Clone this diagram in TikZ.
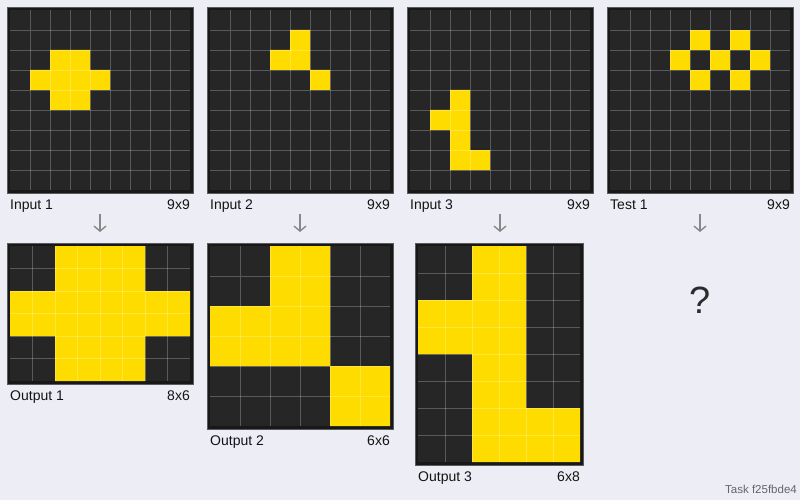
\documentclass[tikz,border=0pt]{standalone}
\usepackage{fontspec}
\setmainfont{Liberation Sans}
\usetikzlibrary{arrows.meta,positioning}
\definecolor{arcbg}{RGB}{237,237,245}
\definecolor{arcframe}{RGB}{24,24,24}
\definecolor{arcedge}{RGB}{90,90,90}
\definecolor{arccell}{RGB}{38,38,38}
\definecolor{arcyel}{RGB}{255,220,0}
\definecolor{arctext}{RGB}{20,20,20}
\definecolor{arcarrow}{RGB}{136,136,136}

\begin{document}
\begin{tikzpicture}[x=1pt,y=-1pt,font=\fontsize{14}{16}\selectfont,
    panel/.style={fill=arcframe,draw=arcedge,line width=.5pt,inner sep=0pt,outer sep=0pt,anchor=north west},
    gridln/.style={draw=white,opacity=.24,line width=.8pt},
    lbl/.style={text=arctext,inner sep=0pt},
    down/.style={draw=arcarrow,line width=1.4pt,-{Straight Barb[length=5pt,width=12pt]}}]
    \fill[arcbg] (0,0) rectangle (800,500);
    % inputs (9x9, cell 20)
    \node[panel,minimum width=186pt,minimum height=186pt] (in1) at (7,7) {};
    \node[panel,minimum width=186pt,minimum height=186pt] (in2) at (207,7) {};
    \node[panel,minimum width=186pt,minimum height=186pt] (in3) at (407,7) {};
    \node[panel,minimum width=186pt,minimum height=186pt] (test1) at (607,7) {};
    \begin{scope}[shift={(10,10)},x=20pt,y=-20pt]
      \fill[arccell] (0,0) rectangle (9,9);
      \fill[arcyel] (2,2) rectangle (4,5) (1,3) rectangle (5,4);
      \foreach \i in {1,...,8} \draw[gridln] (\i,0)--(\i,9) (0,\i)--(9,\i);
    \end{scope}
    \begin{scope}[shift={(210,10)},x=20pt,y=-20pt]
      \fill[arccell] (0,0) rectangle (9,9);
      \fill[arcyel] (4,1) rectangle (5,3) (3,2) rectangle (4,3) (5,3) rectangle (6,4);
      \foreach \i in {1,...,8} \draw[gridln] (\i,0)--(\i,9) (0,\i)--(9,\i);
    \end{scope}
    \begin{scope}[shift={(410,10)},x=20pt,y=-20pt]
      \fill[arccell] (0,0) rectangle (9,9);
      \fill[arcyel] (2,4) rectangle (3,8) (1,5) rectangle (2,6) (3,7) rectangle (4,8);
      \foreach \i in {1,...,8} \draw[gridln] (\i,0)--(\i,9) (0,\i)--(9,\i);
    \end{scope}
    \begin{scope}[shift={(610,10)},x=20pt,y=-20pt]
      \fill[arccell] (0,0) rectangle (9,9);
      \foreach \c/\r in {4/1,6/1,3/2,5/2,7/2,4/3,6/3} \fill[arcyel] (\c,\r) rectangle ++(1,1);
      \foreach \i in {1,...,8} \draw[gridln] (\i,0)--(\i,9) (0,\i)--(9,\i);
    \end{scope}
    % outputs
    \node[panel,minimum width=186pt,minimum height=141pt] (out1) at (7,243) {};
    \node[panel,minimum width=186pt,minimum height=186pt] (out2) at (207,243) {};
    \node[panel,minimum width=168pt,minimum height=222pt] (out3) at (415,243) {};
    \begin{scope}[shift={(10,246)},x=22.5pt,y=-22.5pt]
      \fill[arccell] (0,0) rectangle (8,6);
      \fill[arcyel] (2,0) rectangle (6,6) (0,2) rectangle (8,4);
      \foreach \i in {1,...,7} \draw[gridln] (\i,0)--(\i,6);
      \foreach \i in {1,...,5} \draw[gridln] (0,\i)--(8,\i);
    \end{scope}
    \begin{scope}[shift={(210,246)},x=30pt,y=-30pt]
      \fill[arccell] (0,0) rectangle (6,6);
      \fill[arcyel] (2,0) rectangle (4,4) (0,2) rectangle (2,4) (4,4) rectangle (6,6);
      \foreach \i in {1,...,5} \draw[gridln] (\i,0)--(\i,6) (0,\i)--(6,\i);
    \end{scope}
    \begin{scope}[shift={(418,246)},x=27pt,y=-27pt]
      \fill[arccell] (0,0) rectangle (6,8);
      \fill[arcyel] (2,0) rectangle (4,8) (0,2) rectangle (2,4) (4,6) rectangle (6,8);
      \foreach \i in {1,...,5} \draw[gridln] (\i,0)--(\i,8);
      \foreach \i in {1,...,7} \draw[gridln] (0,\i)--(6,\i);
    \end{scope}
    % labels
    \foreach \p/\t/\s in {in1/Input 1/9x9,in2/Input 2/9x9,in3/Input 3/9x9,test1/Test 1/9x9,
                          out1/Output 1/8x6,out2/Output 2/6x6,out3/Output 3/6x8}{
      \node[lbl,anchor=base west] (\p name) at ([xshift=3pt,yshift=-16.5pt]\p.south west) {\t};
      \node[lbl,anchor=base east] (\p size) at ([xshift=-3pt,yshift=-16.5pt]\p.south east) {\s};
    }
    % arrows
    \foreach \p in {in1,in2,in3,test1}
      \draw[down] ([yshift=-21pt]\p.south) -- ++(0,18);
    \node[text=arctext!90!white,font=\fontsize{38}{40}\selectfont] (unknown) at (700,300) {?};
    \node[text=arcarrow!75!black,font=\fontsize{11.5}{13}\selectfont,anchor=base east,inner sep=0pt] (taskid) at (797,493) {Task f25fbde4};
  \end{tikzpicture}
\end{document}
